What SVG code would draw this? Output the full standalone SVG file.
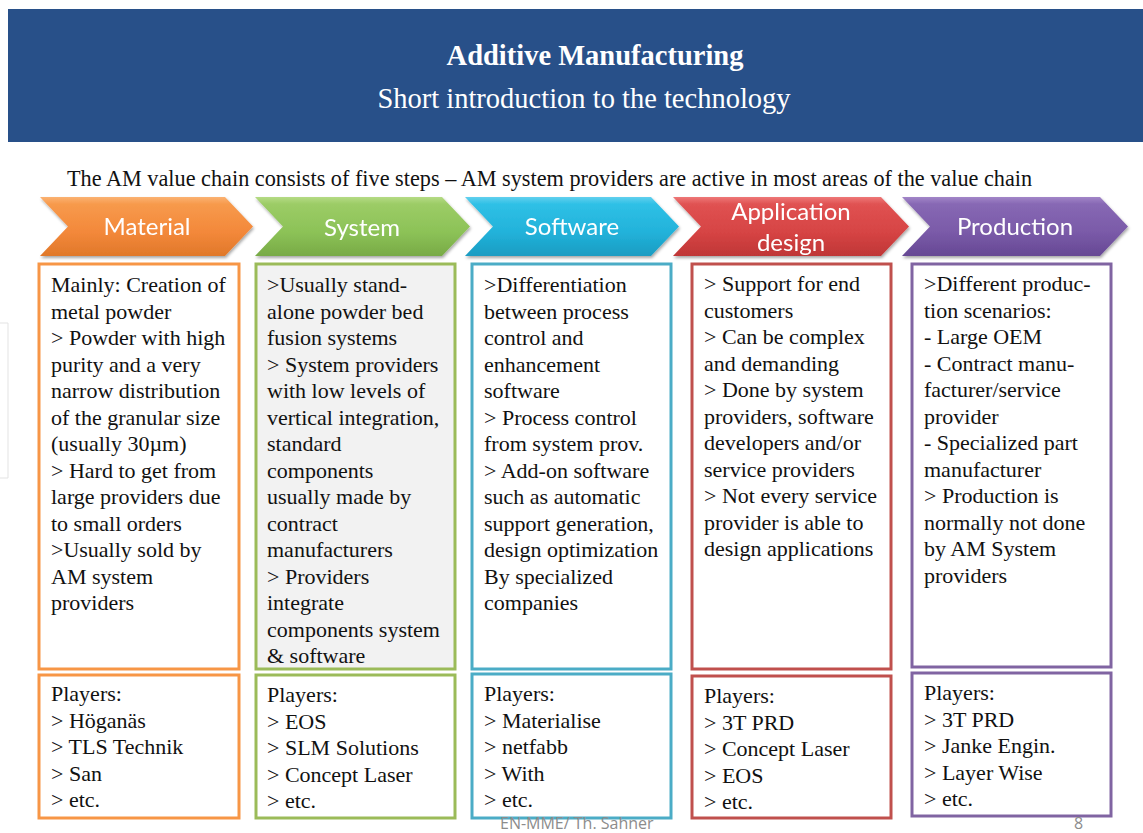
<svg xmlns="http://www.w3.org/2000/svg" width="1143" height="833" viewBox="0 0 1143 833">
<style>
.t{font-family:'Liberation Serif','Tinos','DejaVu Serif',serif;font-size:22px;fill:#111}
.hd{font-family:'Liberation Serif','Tinos','DejaVu Serif',serif;fill:#fff;text-anchor:middle}
.lab{font-family:Lato,'Open Sans','Liberation Sans',sans-serif;font-size:24px;fill:#fff;text-anchor:middle}
.box{stroke-width:3}
.foot{font-family:'Open Sans','Liberation Sans',sans-serif;font-size:16px;fill:#8c8c8c}
</style>
<defs>
<linearGradient id="gO" x1="0" y1="0" x2="0" y2="1"><stop offset="0" stop-color="#fbb272"/><stop offset="0.12" stop-color="#f79a4c"/><stop offset="0.6" stop-color="#f3883a"/><stop offset="1" stop-color="#e0782a"/></linearGradient>
<linearGradient id="gG" x1="0" y1="0" x2="0" y2="1"><stop offset="0" stop-color="#b5db85"/><stop offset="0.12" stop-color="#9ccc66"/><stop offset="0.6" stop-color="#8cc257"/><stop offset="1" stop-color="#78aa46"/></linearGradient>
<linearGradient id="gB" x1="0" y1="0" x2="0" y2="1"><stop offset="0" stop-color="#62d0ee"/><stop offset="0.12" stop-color="#2fc0e6"/><stop offset="0.6" stop-color="#22b2da"/><stop offset="1" stop-color="#1a9cc2"/></linearGradient>
<linearGradient id="gR" x1="0" y1="0" x2="0" y2="1"><stop offset="0" stop-color="#ee7878"/><stop offset="0.12" stop-color="#e05252"/><stop offset="0.6" stop-color="#d64444"/><stop offset="1" stop-color="#bf3636"/></linearGradient>
<linearGradient id="gP" x1="0" y1="0" x2="0" y2="1"><stop offset="0" stop-color="#a286c8"/><stop offset="0.12" stop-color="#8768b4"/><stop offset="0.6" stop-color="#7a5aa8"/><stop offset="1" stop-color="#664894"/></linearGradient>
<filter id="sh" x="-5%" y="-10%" width="110%" height="130%"><feDropShadow dx="1" dy="2" stdDeviation="1.5" flood-color="#000" flood-opacity="0.35"/></filter>
</defs>

<rect id="header" x="8" y="9" width="1135" height="133" fill="#285089"/>
<text class="hd" x="595" y="65" font-size="28.5" font-weight="bold">Additive Manufacturing</text>
<text class="hd" x="584" y="108" font-size="28.5">Short introduction to the technology</text>

<path d="M0,323 H8 V478 H0" fill="none" stroke="#e3e3e3" stroke-width="1"/>

<text class="t" x="67" y="186" style="font-size:22.25px">The AM value chain consists of five steps – AM system providers are active in most areas of the value chain</text>

<g id="connectors"></g>

<g id="arrow-material" filter="url(#sh)">
<path d="M40,197 H225 L253,226.5 L225,256 H40 L68,226.5 Z" fill="url(#gO)"/>
<text class="lab" x="147" y="235">Material</text>
</g>
<g id="arrow-system" filter="url(#sh)">
<path d="M255,197 H442 L470,226.5 L442,256 H255 L283,226.5 Z" fill="url(#gG)"/>
<text class="lab" x="362" y="236">System</text>
</g>
<g id="arrow-software" filter="url(#sh)">
<path d="M465,197 H651 L679,226.5 L651,256 H465 L493,226.5 Z" fill="url(#gB)"/>
<text class="lab" x="572" y="235">Software</text>
</g>
<g id="arrow-application" filter="url(#sh)">
<path d="M673,197 H881 L909,226.5 L881,256 H673 L701,226.5 Z" fill="url(#gR)"/>
<text class="lab" x="791" y="220">Application</text>
<text class="lab" x="791" y="251">design</text>
</g>
<g id="arrow-production" filter="url(#sh)">
<path d="M902,197 H1100 L1128,226.5 L1100,256 H902 L930,226.5 Z" fill="url(#gP)"/>
<text class="lab" x="1015" y="235">Production</text>
</g>

<g id="box-material">
<rect class="box" x="39" y="264" width="200" height="405" fill="#fff" stroke="#f79646"/>
<text class="t" x="51" y="292">
<tspan x="51" dy="0">Mainly: Creation of</tspan>
<tspan x="51" dy="26.5">metal powder</tspan>
<tspan x="51" dy="26.5">&gt; Powder with high</tspan>
<tspan x="51" dy="26.5">purity and a very</tspan>
<tspan x="51" dy="26.5">narrow distribution</tspan>
<tspan x="51" dy="26.5">of the granular size</tspan>
<tspan x="51" dy="26.5">(usually 30µm)</tspan>
<tspan x="51" dy="26.5">&gt; Hard to get from</tspan>
<tspan x="51" dy="26.5">large providers due</tspan>
<tspan x="51" dy="26.5">to small orders</tspan>
<tspan x="51" dy="26.5">&gt;Usually sold by</tspan>
<tspan x="51" dy="26.5">AM system</tspan>
<tspan x="51" dy="26.5">providers</tspan>
</text>
</g>
<g id="players-material">
<rect class="box" x="39" y="675" width="200" height="143" fill="#fff" stroke="#f79646"/>
<text class="t" x="51" y="701">
<tspan x="51" dy="0">Players:</tspan>
<tspan x="51" dy="26.5">&gt; Höganäs</tspan>
<tspan x="51" dy="26.5">&gt; TLS Technik</tspan>
<tspan x="51" dy="26.5">&gt; San</tspan>
<tspan x="51" dy="26.5">&gt; etc.</tspan>
</text>
</g>

<g id="box-system">
<rect class="box" x="256" y="264" width="199" height="405" fill="#f2f2f2" stroke="#9bbb59"/>
<text class="t" x="267" y="292">
<tspan x="267" dy="0">&gt;Usually stand-</tspan>
<tspan x="267" dy="26.5">alone powder bed</tspan>
<tspan x="267" dy="26.5">fusion systems</tspan>
<tspan x="267" dy="26.5">&gt; System providers</tspan>
<tspan x="267" dy="26.5">with low levels of</tspan>
<tspan x="267" dy="26.5">vertical integration,</tspan>
<tspan x="267" dy="26.5">standard</tspan>
<tspan x="267" dy="26.5">components</tspan>
<tspan x="267" dy="26.5">usually made by</tspan>
<tspan x="267" dy="26.5">contract</tspan>
<tspan x="267" dy="26.5">manufacturers</tspan>
<tspan x="267" dy="26.5">&gt; Providers</tspan>
<tspan x="267" dy="26.5">integrate</tspan>
<tspan x="267" dy="26.5">components system</tspan>
<tspan x="267" dy="26.5">&amp; software</tspan>
</text>
</g>
<g id="players-system">
<rect class="box" x="256" y="675" width="199" height="143" fill="#fff" stroke="#9bbb59"/>
<text class="t" x="267" y="702">
<tspan x="267" dy="0">Players:</tspan>
<tspan x="267" dy="26.5">&gt; EOS</tspan>
<tspan x="267" dy="26.5">&gt; SLM Solutions</tspan>
<tspan x="267" dy="26.5">&gt; Concept Laser</tspan>
<tspan x="267" dy="26.5">&gt; etc.</tspan>
</text>
</g>

<g id="box-software">
<rect class="box" x="472" y="264" width="199" height="405" fill="#fff" stroke="#4bacc6"/>
<text class="t" x="484" y="292">
<tspan x="484" dy="0">&gt;Differentiation</tspan>
<tspan x="484" dy="26.5">between process</tspan>
<tspan x="484" dy="26.5">control and</tspan>
<tspan x="484" dy="26.5">enhancement</tspan>
<tspan x="484" dy="26.5">software</tspan>
<tspan x="484" dy="26.5">&gt; Process control</tspan>
<tspan x="484" dy="26.5">from system prov.</tspan>
<tspan x="484" dy="26.5">&gt; Add-on software</tspan>
<tspan x="484" dy="26.5">such as automatic</tspan>
<tspan x="484" dy="26.5">support generation,</tspan>
<tspan x="484" dy="26.5">design optimization</tspan>
<tspan x="484" dy="26.5">By specialized</tspan>
<tspan x="484" dy="26.5">companies</tspan>
</text>
</g>
<g id="players-software">
<rect class="box" x="472" y="674" width="199" height="144" fill="#fff" stroke="#4bacc6"/>
<text class="t" x="484" y="701">
<tspan x="484" dy="0">Players:</tspan>
<tspan x="484" dy="26.5">&gt; Materialise</tspan>
<tspan x="484" dy="26.5">&gt; netfabb</tspan>
<tspan x="484" dy="26.5">&gt; With</tspan>
<tspan x="484" dy="26.5">&gt; etc.</tspan>
</text>
</g>

<g id="box-application">
<rect class="box" x="692" y="264" width="199" height="405" fill="#fff" stroke="#c0504d"/>
<text class="t" x="704" y="291">
<tspan x="704" dy="0">&gt; Support for end</tspan>
<tspan x="704" dy="26.5">customers</tspan>
<tspan x="704" dy="26.5">&gt; Can be complex</tspan>
<tspan x="704" dy="26.5">and demanding</tspan>
<tspan x="704" dy="26.5">&gt; Done by system</tspan>
<tspan x="704" dy="26.5">providers, software</tspan>
<tspan x="704" dy="26.5">developers and/or</tspan>
<tspan x="704" dy="26.5">service providers</tspan>
<tspan x="704" dy="26.5">&gt; Not every service</tspan>
<tspan x="704" dy="26.5">provider is able to</tspan>
<tspan x="704" dy="26.5">design applications</tspan>
</text>
</g>
<g id="players-application">
<rect class="box" x="692" y="676" width="199" height="142" fill="#fff" stroke="#c0504d"/>
<text class="t" x="704" y="703">
<tspan x="704" dy="0">Players:</tspan>
<tspan x="704" dy="26.5">&gt; 3T PRD</tspan>
<tspan x="704" dy="26.5">&gt; Concept Laser</tspan>
<tspan x="704" dy="26.5">&gt; EOS</tspan>
<tspan x="704" dy="26.5">&gt; etc.</tspan>
</text>
</g>

<g id="box-production">
<rect class="box" x="912" y="264" width="199" height="403" fill="#fff" stroke="#8064a2"/>
<text class="t" x="924" y="291">
<tspan x="924" dy="0">&gt;Different produc-</tspan>
<tspan x="924" dy="26.5">tion scenarios:</tspan>
<tspan x="924" dy="26.5">- Large OEM</tspan>
<tspan x="924" dy="26.5">- Contract manu-</tspan>
<tspan x="924" dy="26.5">facturer/service</tspan>
<tspan x="924" dy="26.5">provider</tspan>
<tspan x="924" dy="26.5">- Specialized part</tspan>
<tspan x="924" dy="26.5">manufacturer</tspan>
<tspan x="924" dy="26.5">&gt; Production is</tspan>
<tspan x="924" dy="26.5">normally not done</tspan>
<tspan x="924" dy="26.5">by AM System</tspan>
<tspan x="924" dy="26.5">providers</tspan>
</text>
</g>
<g id="players-production">
<rect class="box" x="912" y="673" width="199" height="143" fill="#fff" stroke="#8064a2"/>
<text class="t" x="924" y="700">
<tspan x="924" dy="0">Players:</tspan>
<tspan x="924" dy="26.5">&gt; 3T PRD</tspan>
<tspan x="924" dy="26.5">&gt; Janke Engin.</tspan>
<tspan x="924" dy="26.5">&gt; Layer Wise</tspan>
<tspan x="924" dy="26.5">&gt; etc.</tspan>
</text>
</g>

<text class="foot" x="500" y="829">EN-MME/ Th. Sahner</text>
<text class="foot" x="1074" y="829">8</text>
</svg>
